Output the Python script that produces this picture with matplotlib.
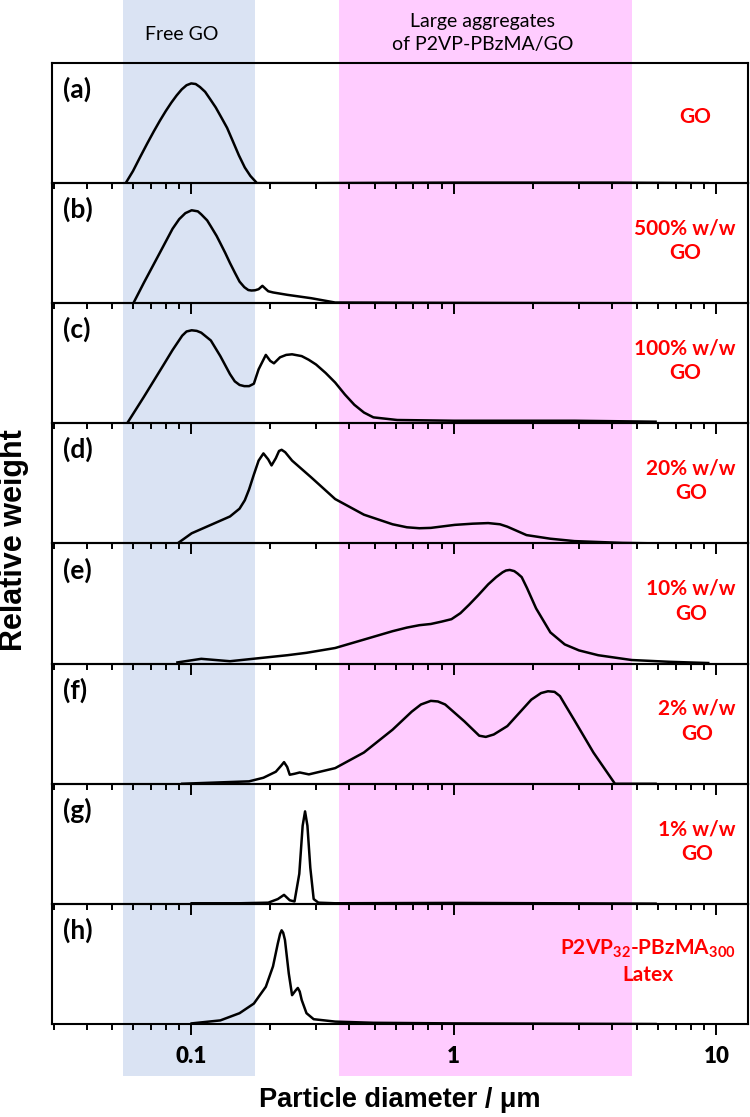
import numpy as np
import matplotlib.pyplot as plt
from matplotlib.ticker import FixedLocator, LogLocator, NullFormatter

plt.rcParams['font.family'] = ['Lato', 'DejaVu Sans']
plt.rcParams['font.weight'] = 'bold'
plt.rcParams['mathtext.fontset'] = 'custom'
plt.rcParams['mathtext.rm'] = 'Lato:bold'
plt.rcParams['mathtext.it'] = 'Lato:bold'
plt.rcParams['mathtext.bf'] = 'Lato:bold'

# particle diameter (um) / relative weight
d_a = [0.0563, 0.060, 0.064, 0.068, 0.072, 0.076, 0.080, 0.084, 0.088, 0.092,
       0.096, 0.100, 0.104, 0.108, 0.113, 0.118, 0.124, 0.130, 0.137, 0.144,
       0.152, 0.160, 0.168, 0.178, 0.30, 1.0, 4.0, 9.3]
w_a = [0.0, 0.10, 0.22, 0.33, 0.43, 0.52, 0.60, 0.67, 0.73, 0.78,
       0.815, 0.83, 0.825, 0.80, 0.76, 0.70, 0.63, 0.55, 0.46, 0.35,
       0.23, 0.13, 0.06, 0.0, 0.0, 0.004, 0.004, 0.0]

d_b = [0.0602, 0.066, 0.0718, 0.0781, 0.0849, 0.090, 0.095, 0.1004, 0.106,
       0.1092, 0.115, 0.1188, 0.125, 0.1291, 0.1347, 0.1405, 0.147, 0.1528,
       0.1593, 0.165, 0.1696, 0.175, 0.1806, 0.1867, 0.192, 0.1965, 0.2049,
       0.2324, 0.2866, 0.3534, 1.0, 5.87]
w_b = [0.0, 0.17, 0.32, 0.47, 0.62, 0.70, 0.75, 0.774, 0.765,
       0.74, 0.69, 0.64, 0.56, 0.50, 0.42, 0.335, 0.25, 0.18,
       0.134, 0.11, 0.106, 0.108, 0.117, 0.145, 0.12, 0.10, 0.09,
       0.07, 0.042, 0.006, 0.003, 0.0]

d_c = [0.0570, 0.066, 0.0718, 0.0781, 0.0849, 0.0924, 0.096, 0.1004, 0.105,
       0.1092, 0.1188, 0.1291, 0.1405, 0.1465, 0.1528, 0.1593, 0.1661, 0.1732,
       0.1806, 0.1924, 0.2000, 0.2066, 0.2179, 0.2300, 0.2422, 0.2635, 0.2800,
       0.2989, 0.3250, 0.3534, 0.3850, 0.4180, 0.4550, 0.4943, 0.6095, 1.0,
       2.88, 5.87]
w_c = [0.0, 0.22, 0.35, 0.48, 0.61, 0.73, 0.765, 0.775, 0.77,
       0.755, 0.69, 0.56, 0.41, 0.35, 0.32, 0.31, 0.31, 0.33,
       0.45, 0.57, 0.52, 0.50, 0.55, 0.57, 0.575, 0.56, 0.53,
       0.49, 0.42, 0.34, 0.24, 0.155, 0.09, 0.05, 0.028, 0.022,
       0.022, 0.014]

d_d = [0.0886, 0.1004, 0.1188, 0.1405, 0.1528, 0.1600, 0.1661, 0.1730, 0.1806,
       0.1884, 0.1965, 0.2023, 0.2100, 0.2160, 0.2210, 0.2280, 0.2422, 0.2866,
       0.3534, 0.4547, 0.5846, 0.6630, 0.7400, 0.8177, 1.0084, 1.1800, 1.3524,
       1.5000, 1.5996, 1.8923, 2.33, 2.88, 4.38, 6.39]
w_d = [0.0, 0.085, 0.155, 0.225, 0.29, 0.36, 0.45, 0.57, 0.69,
       0.75, 0.70, 0.65, 0.71, 0.77, 0.78, 0.76, 0.69, 0.55,
       0.37, 0.24, 0.16, 0.135, 0.127, 0.13, 0.155, 0.165, 0.17,
       0.16, 0.14, 0.07, 0.04, 0.02, 0.005, 0.0]

d_e = [0.0886, 0.1092, 0.1405, 0.1806, 0.2324, 0.2748, 0.3534, 0.4547, 0.5846,
       0.6630, 0.7400, 0.8177, 0.9000, 0.9800, 1.0600, 1.1436, 1.2400, 1.3524,
       1.4500, 1.5339, 1.5800, 1.6335, 1.7000, 1.7500, 1.8143, 1.9000, 2.0580,
       2.3330, 2.6456, 3.0000, 3.548, 4.761, 6.659, 9.313]
w_e = [0.01, 0.04, 0.02, 0.045, 0.07, 0.09, 0.13, 0.20, 0.27,
       0.30, 0.32, 0.33, 0.35, 0.37, 0.42, 0.49, 0.57, 0.66,
       0.72, 0.76, 0.775, 0.78, 0.77, 0.75, 0.72, 0.63, 0.46,
       0.26, 0.16, 0.11, 0.07, 0.03, 0.015, 0.005]

d_f = [0.0924, 0.1661, 0.1884, 0.2100, 0.2200, 0.2257, 0.2320, 0.2373, 0.2474,
       0.2590, 0.2806, 0.3534, 0.4547, 0.5846, 0.6914, 0.7500, 0.8177, 0.8700,
       0.9272, 1.0967, 1.2500, 1.3243, 1.4200, 1.5996, 1.9734, 2.1500, 2.2846,
       2.4200, 2.5370, 2.6500, 2.8774, 3.4028, 4.110, 5.87]
w_f = [0.0, 0.02, 0.05, 0.10, 0.15, 0.18, 0.14, 0.075, 0.083,
       0.094, 0.078, 0.13, 0.26, 0.45, 0.60, 0.66, 0.69, 0.685,
       0.66, 0.52, 0.40, 0.39, 0.41, 0.48, 0.70, 0.755, 0.77,
       0.765, 0.73, 0.66, 0.53, 0.26, 0.0, 0.0]

d_g = [0.1004, 0.1528, 0.1965, 0.2137, 0.2257, 0.2373, 0.2474, 0.2580, 0.2657,
       0.2714, 0.2771, 0.2842, 0.2927, 0.3050, 0.3534, 1.0, 5.87]
w_g = [0.005, 0.005, 0.01, 0.04, 0.075, 0.03, 0.02, 0.25, 0.65,
       0.77, 0.65, 0.30, 0.04, 0.01, 0.005, 0.008, 0.002]

d_h = [0.1004, 0.1291, 0.1528, 0.1732, 0.1924, 0.2049, 0.2137, 0.2180, 0.2210,
       0.2240, 0.2275, 0.2353, 0.2422, 0.2500, 0.2547, 0.2590, 0.2635, 0.2748,
       0.2927, 0.3534, 0.4943, 1.0, 5.87]
w_h = [0.005, 0.03, 0.09, 0.17, 0.31, 0.48, 0.67, 0.75, 0.78,
       0.76, 0.70, 0.42, 0.24, 0.28, 0.30, 0.27, 0.20, 0.09,
       0.04, 0.02, 0.01, 0.005, 0.0]

diams = [d_a, d_b, d_c, d_d, d_e, d_f, d_g, d_h]
weights = [w_a, w_b, w_c, w_d, w_e, w_f, w_g, w_h]
panel_tags = ['(a)', '(b)', '(c)', '(d)', '(e)', '(f)', '(g)', '(h)']
sample_names = ['GO', '500% w/w\nGO', '100% w/w\nGO', '20% w/w\nGO',
                '10% w/w\nGO', '2% w/w\nGO', '1% w/w\nGO',
                'P2VP$_{32}$-PBzMA$_{300}$\nLatex']
tick_vals = [0.1, 1, 10]
tick_text = ['0.1', '1', '10']

free_go = (0.0551, 0.1754)
aggregates = (0.364, 4.76)
xlim = (0.0295, 13.2)

W, H = 750, 1117
fig = plt.figure(figsize=(W / 100, H / 100), dpi=100)
L, R = 52 / W, 748 / W
T, B = 1 - 63 / H, 1 - 1024 / H
ax_w = 748 - 52

# shaded regions behind all panels
bg = fig.add_axes([L, 1 - 1076 / H, R - L, 1076 / H], zorder=-1)
bg.set_xscale('log')
bg.set_xlim(xlim)
bg.set_ylim(0, 1)
bg.axvspan(*free_go, color='#dae3f3', lw=0)
bg.axvspan(*aggregates, color='#ffccff', lw=0)
bg.axis('off')

axs = fig.subplots(8, 1, sharex=True)
fig.subplots_adjust(left=L, right=R, top=T, bottom=B, hspace=0)

for i, ax in enumerate(axs):
    ax.set_facecolor('none')
    ax.plot(diams[i], weights[i], color='black', lw=1.8, solid_joinstyle='round')
    ax.set_xscale('log')
    ax.set_xlim(xlim)
    ax.set_ylim(0, 1)
    ax.set_yticks([])
    for s in ax.spines.values():
        s.set_linewidth(1.5)
    ax.xaxis.set_major_locator(FixedLocator(tick_vals))
    ax.xaxis.set_minor_locator(LogLocator(base=10, subs=np.arange(2, 10)))
    ax.xaxis.set_minor_formatter(NullFormatter())
    ax.tick_params(axis='x', which='major', direction='out', length=8, width=1.4,
                   pad=8, labelsize=16)
    ax.tick_params(axis='x', which='minor', direction='out', length=4.5, width=1.4)
    ax.tick_params(axis='x', labelbottom=(i == 7))
    ax.text(0.016, 0.78, panel_tags[i], transform=ax.transAxes, fontsize=19,
            fontweight='bold', ha='left', va='center')
    if i == 0:
        ax.text((695 - 52) / ax_w, 0.55, sample_names[i], transform=ax.transAxes,
                color='red', fontsize=15, fontweight='bold', ha='center', va='center')
    else:
        ax.text((736 - 52) / ax_w, 0.52, sample_names[i], transform=ax.transAxes,
                color='red', fontsize=15, fontweight='bold', ha='right', va='center',
                multialignment='center', linespacing=1.3)

axs[-1].set_xticklabels(tick_text)
plt.setp(axs[-1].get_xticklabels(), fontweight='heavy', fontsize=16)

fig.text(182 / W, 1 - 35 / H, 'Free GO', fontsize=14, fontweight='normal',
         ha='center', va='center')
fig.text(483 / W, 1 - 33 / H, 'Large aggregates\nof P2VP-PBzMA/GO', fontsize=14,
         fontweight='normal', ha='center', va='center', linespacing=1.45)

fig.text(14 / W, 1 - 540 / H, 'Relative weight', rotation=90, fontsize=22,
         fontweight='bold', family='Liberation Sans', ha='center', va='center')
fig.text(400 / W, 1 - 1100 / H, 'Particle diameter / \u03bcm', fontsize=19.5,
         fontweight='bold', family='Liberation Sans', ha='center', va='center')

fig.savefig('out.png', dpi=100)
